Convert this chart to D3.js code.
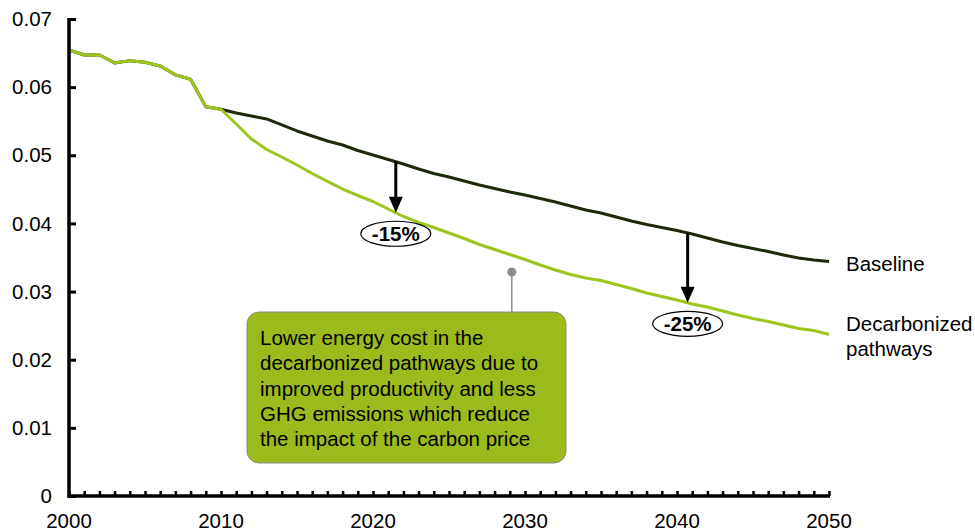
<!DOCTYPE html>
<html>
<head>
<meta charset="utf-8">
<script src="https://cdn.jsdelivr.net/npm/d3@7"></script>
<style>
  html, body { margin: 0; padding: 0; background: #fff; }
  svg { display: block; font-family: Arial, "Liberation Sans", sans-serif; }
</style>
</head>
<body>
<svg id="chart" width="975" height="531"></svg>
<script>
const years = d3.range(2000, 2051);
const baseline = [
  0.06545, 0.06472, 0.06472, 0.06355, 0.06389, 0.06365, 0.0631, 0.0618, 0.06115, 0.05713,
  0.05675, 0.05621, 0.05577, 0.05533, 0.05445, 0.05357, 0.05283, 0.0521, 0.05151, 0.0507,
  0.05004, 0.04938, 0.04872, 0.04799, 0.04733, 0.04682, 0.04623, 0.04564, 0.04513, 0.04461,
  0.04417, 0.04366, 0.04315, 0.04256, 0.04197, 0.04153, 0.04095, 0.04036, 0.03984, 0.0394,
  0.03896, 0.03845, 0.03786, 0.03728, 0.03676, 0.03632, 0.03588, 0.03537, 0.03493, 0.03463,
  0.03441
];
const decarbonized = [
  0.06545, 0.06472, 0.06472, 0.06355, 0.06389, 0.06365, 0.0631, 0.0618, 0.06115, 0.05713,
  0.05675, 0.05459, 0.05239, 0.05085, 0.04975, 0.04858, 0.04733, 0.04616, 0.04505, 0.0441,
  0.04322, 0.04212, 0.04102, 0.04014, 0.0394, 0.0386, 0.03779, 0.03691, 0.03618, 0.03544,
  0.03471, 0.0339, 0.03317, 0.03251, 0.03199, 0.03163, 0.03104, 0.03045, 0.02979, 0.02928,
  0.02876, 0.02818, 0.02774, 0.02715, 0.02656, 0.02605, 0.02561, 0.0251, 0.02458, 0.02429,
  0.0237
];
const yTicks = [0, 0.01, 0.02, 0.03, 0.04, 0.05, 0.06, 0.07];
const yTickLabels = ["0", "0.01", "0.02", "0.03", "0.04", "0.05", "0.06", "0.07"];
const xTickLabels = [2000, 2010, 2020, 2030, 2040, 2050];
const seriesNames = ["Baseline", "Decarbonized pathways"];
const arrowYears = [2021.5, 2040.7];
const arrowLabels = ["-15%", "-25%"];
const calloutLines = [
  "Lower energy cost in the",
  "decarbonized pathways due to",
  "improved productivity and less",
  "GHG emissions which reduce",
  "the impact of the carbon price"
];
const calloutYear = 2029.0;

const svg = d3.select("#chart");
const x = d3.scaleLinear().domain([2000, 2050]).range([69, 829]);
const y = d3.scaleLinear().domain([0, 0.07]).range([496, 19]);

const colBase = "#1d2a0b";
const colDec = "#9cc51d";
const fs = 20.5;

// lines
const line = d3.line().x((d, i) => x(years[i])).y(d => y(d));
svg.append("path").datum(baseline).attr("d", line)
  .attr("fill", "none").attr("stroke", colBase).attr("stroke-width", 3).attr("stroke-linejoin", "round");
svg.append("path").datum(decarbonized).attr("d", line)
  .attr("fill", "none").attr("stroke", colDec).attr("stroke-width", 3).attr("stroke-linejoin", "round");

// axes
const yAxis = d3.axisRight(y).tickValues(yTicks).tickSize(7).tickFormat("");
const gy = svg.append("g").attr("transform", `translate(${x(2000)},0)`).call(yAxis);
gy.select(".domain").remove();
gy.selectAll(".tick line").attr("stroke", "#000").attr("stroke-width", 3);

const xAxis = d3.axisTop(x).tickValues(years).tickSize(5).tickFormat("");
const gx = svg.append("g").attr("transform", `translate(0,${y(0)})`).call(xAxis);
gx.select(".domain").remove();
gx.selectAll(".tick line").attr("stroke", "#000").attr("stroke-width", 2.5);

svg.append("line").attr("x1", x(2000)).attr("x2", x(2000)).attr("y1", y(0.07) - 1).attr("y2", y(0) + 1.5)
  .attr("stroke", "#000").attr("stroke-width", 3.5);
svg.append("line").attr("x1", x(2000) - 1.5).attr("x2", x(2050) + 1).attr("y1", y(0)).attr("y2", y(0))
  .attr("stroke", "#000").attr("stroke-width", 3.5);

// tick labels
svg.append("g").selectAll("text").data(yTicks).join("text")
  .attr("x", 52).attr("y", d => y(d)).attr("dy", "0.35em")
  .attr("text-anchor", "end").attr("font-size", fs).attr("fill", "#000")
  .text((d, i) => yTickLabels[i]);
svg.append("g").selectAll("text").data(xTickLabels).join("text")
  .attr("x", d => x(d)).attr("y", 521).attr("dy", "0.35em")
  .attr("text-anchor", "middle").attr("font-size", fs).attr("fill", "#000")
  .text(d => d);

// series labels
svg.append("text").attr("x", 846).attr("y", y(baseline[50]) + 2.5).attr("dy", "0.35em")
  .attr("font-size", fs).attr("fill", "#000").text(seriesNames[0]);
const decLab = svg.append("text").attr("x", 846).attr("y", 324).attr("dy", "0.35em")
  .attr("font-size", fs).attr("fill", "#000");
decLab.append("tspan").attr("x", 846).text("Decarbonized");
decLab.append("tspan").attr("x", 846).attr("dy", 25).text("pathways");

// arrows
const interp = (arr, yr) => {
  const i = Math.floor(yr - 2000), t = yr - 2000 - i;
  return arr[i] + (arr[Math.min(i + 1, arr.length - 1)] - arr[i]) * t;
};
arrowYears.forEach((yr, k) => {
  const ax = x(yr);
  const y1 = y(interp(baseline, yr));
  const y2 = y(interp(decarbonized, yr));
  svg.append("line").attr("x1", ax).attr("x2", ax).attr("y1", y1).attr("y2", y2 - 14)
    .attr("stroke", "#000").attr("stroke-width", 3);
  svg.append("path")
    .attr("d", `M${ax - 7},${y2 - 16} L${ax + 7},${y2 - 16} L${ax},${y2} Z`)
    .attr("fill", "#000");
  const cy = y2 + 21;
  svg.append("ellipse").attr("cx", ax).attr("cy", cy).attr("rx", 35).attr("ry", 12.5)
    .attr("fill", "#fff").attr("stroke", "#000").attr("stroke-width", 1.2);
  svg.append("text").attr("x", ax).attr("y", cy).attr("dy", "0.36em")
    .attr("text-anchor", "middle").attr("font-size", fs).attr("font-weight", "bold")
    .attr("fill", "#000").text(arrowLabels[k]);
});

// callout
const cx0 = x(calloutYear) + 2;
const dotY = y(interp(decarbonized, calloutYear)) + 17.5;
svg.append("line").attr("x1", cx0).attr("x2", cx0).attr("y1", dotY).attr("y2", 313)
  .attr("stroke", "#8c8c8c").attr("stroke-width", 1.5);
svg.append("circle").attr("cx", cx0).attr("cy", dotY).attr("r", 4.5).attr("fill", "#8c8c8c");
svg.append("rect").attr("x", 247).attr("y", 312).attr("width", 319).attr("height", 151)
  .attr("rx", 12).attr("ry", 12)
  .attr("fill", "#9bbb1c").attr("stroke", "#8a8a8a").attr("stroke-width", 1);
svg.append("g").selectAll("text").data(calloutLines).join("text")
  .attr("x", 260).attr("y", (d, i) => 338 + i * 25.3).attr("dy", "0.35em")
  .attr("font-size", fs).attr("fill", "#000").text(d => d);
</script>
</body>
</html>
